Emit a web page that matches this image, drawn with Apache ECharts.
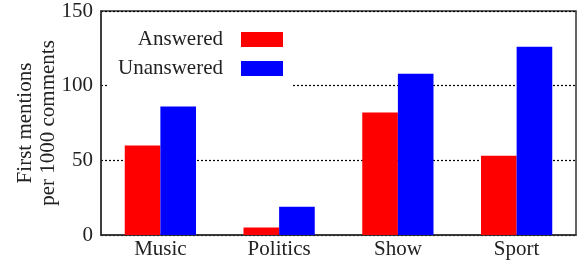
<!DOCTYPE html>
<html>
<head>
<meta charset="utf-8">
<script src="https://cdn.jsdelivr.net/npm/echarts@6/dist/echarts.min.js"></script>
<style>
  html, body { margin: 0; padding: 0; background: #fff; }
  #chart { width: 580px; height: 265px; }
</style>
</head>
<body>
<div id="chart"></div>
<script>
var categories = ['Music', 'Politics', 'Show', 'Sport'];
var answered = [60, 5, 82, 53];
var unanswered = [86, 19, 108, 126];
var yTicks = { min: 0, max: 150, interval: 50 };

var FONT = 'Liberation Serif';

var myChart = echarts.init(document.getElementById('chart'));
myChart.setOption({
    animation: false,
    textStyle: { fontFamily: FONT, color: '#222' },
    grid: {
        left: 101, right: 4, top: 11, bottom: 30,
        containLabel: false, outerBoundsMode: 'none',
        show: true, borderColor: '#333', borderWidth: 1.5, backgroundColor: 'transparent'
    },
    legend: {
        orient: 'vertical',
        align: 'right',
        right: 288,
        top: 19,
        padding: [10, 9, 16, 9],
        backgroundColor: '#fff',
        icon: 'rect',
        itemWidth: 42,
        itemHeight: 15,
        itemGap: 8,
        textStyle: { fontFamily: FONT, fontSize: 21, color: '#222', padding: [0, 13, 0, 0] },
        data: ['Answered', 'Unanswered']
    },
    xAxis: {
        type: 'category',
        data: categories,
        axisLine: { lineStyle: { color: '#333', width: 1.5 } },
        axisTick: { inside: true, alignWithLabel: true, length: 5, lineStyle: { color: '#000', width: 1.5 } },
        axisLabel: { fontFamily: FONT, fontSize: 21, color: '#222', margin: 4 }
    },
    yAxis: {
        type: 'value',
        min: yTicks.min, max: yTicks.max, interval: yTicks.interval,
        name: 'First mentions\nper 1000 comments',
        nameLocation: 'middle',
        nameGap: 41,
        nameMoveOverlap: false,
        nameTextStyle: { fontFamily: FONT, fontSize: 21, color: '#222', lineHeight: 23 },
        axisLine: { show: true, lineStyle: { color: '#333', width: 1.5 } },
        axisTick: { show: false },
        axisLabel: { fontFamily: FONT, fontSize: 21, color: '#222', margin: 8 },
        splitLine: { lineStyle: { color: '#000', type: [2, 2], width: 1.2 } }
    },
    series: [
        { name: 'Answered', type: 'bar', data: answered, barGap: '0%', barCategoryGap: '40%',
          itemStyle: { color: '#ff0000' } },
        { name: 'Unanswered', type: 'bar', data: unanswered,
          itemStyle: { color: '#0000ff' } }
    ]
});
</script>
</body>
</html>
